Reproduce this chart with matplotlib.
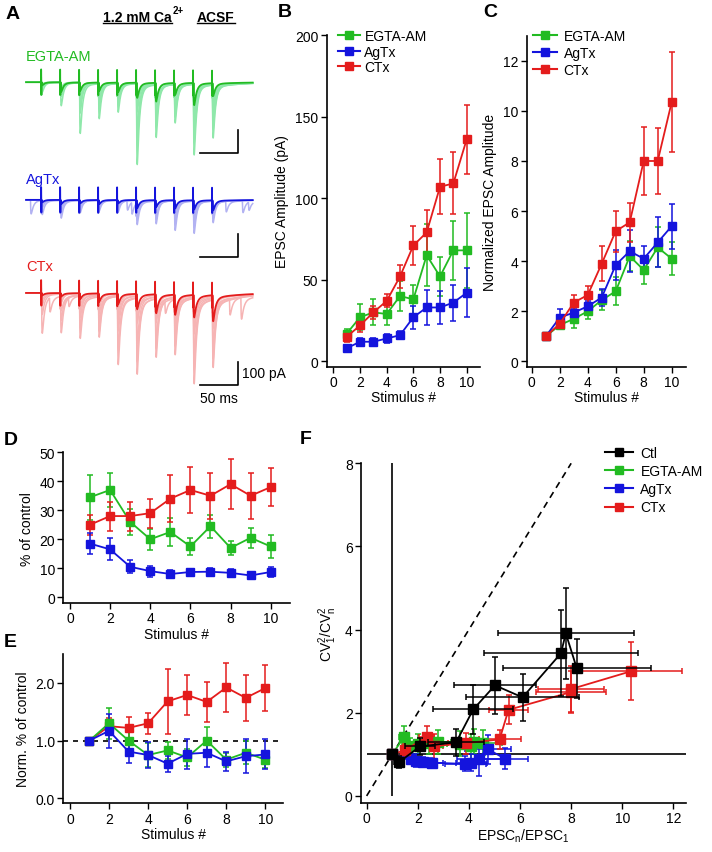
import numpy as np
import matplotlib
matplotlib.use('Agg')
import matplotlib.pyplot as plt
from matplotlib.lines import Line2D

plt.rcParams['font.family'] = ['Liberation Sans', 'DejaVu Sans']
plt.rcParams['font.size'] = 10
plt.rcParams['mathtext.default'] = 'regular'
plt.rcParams['axes.linewidth'] = 1.2

W, H = 712, 853

GREEN = '#22bb22'
BLUE = '#1414dd'
RED = '#e41c1c'
LGREEN = '#8fe8aa'
LBLUE = '#b2b2f2'
LRED = '#f6b4b4'

stim = np.arange(1, 11)
labels = ['EGTA-AM', 'AgTx', 'CTx']

# B: EPSC amplitude (pA)
egta_amp = [17, 27, 30, 29, 40, 38, 65, 52, 68, 68]
egta_amp_err = [3, 8, 8, 7, 9, 9, 19, 12, 18, 23]
agtx_amp = [8, 12, 12, 14, 16, 27, 33, 33, 36, 42]
agtx_amp_err = [1.5, 2, 2, 2.5, 2.5, 7, 11, 10, 11, 15]
ctx_amp = [15, 22, 30, 37, 52, 71, 79, 107, 109, 136]
ctx_amp_err = [3, 4, 4, 4, 7, 12, 14, 17, 19, 21]

# C: normalized amplitude
egta_norm = [1.0, 1.45, 1.7, 2.0, 2.45, 2.8, 4.2, 3.65, 4.55, 4.1]
egta_norm_err = [0, 0.15, 0.35, 0.3, 0.4, 0.55, 0.6, 0.55, 0.8, 0.65]
agtx_norm = [1.0, 1.75, 1.95, 2.2, 2.55, 3.85, 4.4, 4.1, 4.75, 5.4]
agtx_norm_err = [0, 0.35, 0.2, 0.2, 0.35, 0.6, 0.85, 0.5, 1.0, 0.9]
ctx_norm = [1.0, 1.5, 2.35, 2.65, 3.9, 5.2, 5.55, 8.0, 8.0, 10.35]
ctx_norm_err = [0, 0.15, 0.3, 0.35, 0.7, 0.82, 0.78, 1.37, 1.3, 2.0]

# D: % of control
egta_pct = [34.5, 37, 26, 20, 22.5, 17.5, 24.5, 17, 20.5, 17.5]
egta_pct_err = [7.8, 6, 4.6, 3.7, 4.8, 3, 3.9, 2.3, 3.4, 4]
agtx_pct = [18.5, 16.5, 10.5, 9, 8, 8.7, 8.8, 8.4, 7.5, 8.7]
agtx_pct_err = [3.5, 3.8, 2.2, 1.9, 1.5, 1.2, 1.2, 1.5, 1.2, 1.8]
ctx_pct = [25, 28, 28, 29, 34, 37, 35, 39, 35, 38]
ctx_pct_err = [3.5, 5, 5, 5, 8, 8, 8, 8.6, 8, 6.5]

# E: normalized % of control
egta_npct = [1.0, 1.3, 1.0, 0.75, 0.83, 0.71, 1.0, 0.67, 0.79, 0.67]
egta_npct_err = [0, 0.27, 0.2, 0.2, 0.15, 0.15, 0.24, 0.12, 0.2, 0.15]
agtx_npct = [1.0, 1.17, 0.81, 0.75, 0.6, 0.77, 0.79, 0.64, 0.73, 0.76]
agtx_npct_err = [0, 0.29, 0.19, 0.22, 0.14, 0.26, 0.24, 0.16, 0.29, 0.26]
ctx_npct = [1.0, 1.25, 1.22, 1.3, 1.68, 1.79, 1.67, 1.92, 1.74, 1.91]
ctx_npct_err = [0, 0.15, 0.19, 0.18, 0.56, 0.35, 0.35, 0.42, 0.4, 0.4]

# F: CV analysis (x = EPSCn/EPSC1, y = CV1^2/CVn^2)
ctl_x = [1.0, 1.28, 2.09, 3.5, 4.17, 5.02, 6.1, 7.6, 7.79, 8.22]
ctl_y = [1.0, 0.82, 1.19, 1.29, 2.08, 2.66, 2.37, 3.43, 3.91, 3.07]
ctl_xerr = [0, 0.2, 0.6, 1.1, 1.57, 1.6, 2.2, 3.0, 2.65, 2.9]
ctl_yerr = [0, 0.14, 0.2, 0.33, 0.58, 0.68, 0.56, 1.03, 1.1, 0.71]
egta_cv = [1.0, 1.41, 1.2, 1.25, 1.27, 1.3, 1.3, 1.25, 1.28, 1.2]
egta_cv_xerr = [0, 0.2, 0.3, 0.35, 0.4, 0.5, 0.55, 0.5, 0.75, 0.6]
egta_cv_err = [0, 0.27, 0.2, 0.25, 0.25, 0.28, 0.3, 0.3, 0.3, 0.3]
agtx_cv = [1.0, 0.88, 0.85, 0.82, 0.8, 0.77, 0.88, 0.8, 1.12, 0.9]
agtx_cv_xerr = [0, 0.3, 0.35, 0.4, 0.45, 0.8, 0.85, 0.6, 0.9, 0.9]
agtx_cv_err = [0, 0.12, 0.15, 0.12, 0.12, 0.18, 0.4, 0.2, 0.35, 0.25]
ctx_cv = [1.0, 1.1, 1.42, 1.2, 1.27, 1.36, 2.07, 2.5, 2.57, 3.0]
ctx_cv_err = [0, 0.15, 0.25, 0.3, 0.25, 0.22, 0.35, 0.5, 0.55, 0.7]

# A: example traces, peak EPSC (pA) per stimulus for single sweeps and the mean
egta_sweeps = [[43, 60, 217, 80, 60, 348, 120, 165, 150, 230],
               [20, 100, 90, 152, 122, 120, 230, 90, 304, 110],
               [12, 35, 60, 60, 90, 200, 150, 120, 200, 150],
               [25, 50, 130, 110, 70, 260, 180, 140, 250, 190],
               [6, 20, 40, 45, 40, 100, 80, 60, 120, 90]]
egta_mean = [13, 40, 35, 35, 40, 65, 80, 50, 95, 55]
agtx_sweeps = [[60, 75, 30, 45, 35, 93, 60, 126, 60, 93],
               [20, 30, 54, 20, 50, 40, 100, 50, 140, 40],
               [35, 50, 40, 35, 30, 75, 80, 100, 110, 70],
               [10, 15, 20, 25, 20, 60, 30, 80, 90, 60]]
agtx_mean = [10, 17, 14, 17, 14, 35, 30, 35, 39, 43]
agtx_async = [(13, 60), (140, 40), (146, 50), (270, 45), (292, 50), (300, 35)]
ctx_sweeps = [[170, 60, 178, 70, 290, 100, 255, 90, 365, 120],
              [50, 165, 60, 178, 100, 330, 100, 243, 150, 295],
              [30, 40, 100, 120, 150, 200, 180, 160, 250, 200],
              [90, 110, 140, 150, 220, 270, 210, 200, 300, 250],
              [15, 25, 50, 60, 80, 120, 100, 120, 150, 130]]
ctx_mean = [10, 14, 25, 35, 45, 65, 80, 85, 95, 110]
ctx_async = [(38, 60), (63, 40), (190, 50), (275, 70), (290, 90)]

fig = plt.figure(figsize=(W / 100, H / 100), dpi=100)


def px_axes(l, t, r, b):
    return fig.add_axes([l / W, 1 - b / H, (r - l) / W, (b - t) / H])


def style(ax, xlim, ylim, xticks, yticks):
    ax.set_xlim(xlim)
    ax.set_ylim(ylim)
    ax.spines[['top', 'right']].set_visible(False)
    ax.set_xticks(xticks)
    ax.set_yticks(yticks)
    ax.tick_params(direction='out', length=4, width=1, pad=2)


def eb(ax, x, y, yerr, color, xerr=None, ms=5.5, z=2):
    ax.errorbar(x, y, yerr=yerr, xerr=xerr, fmt='-s', color=color, ms=ms, lw=1.3,
                elinewidth=1.1, capsize=2.5, capthick=1.1, zorder=z)


def legend(ax, labs, cols, x, y, hl, tp, ls):
    handles = [Line2D([], [], color=c, marker='s', ms=6, lw=1.5) for c in cols]
    ax.legend(handles, labs, loc='upper left', bbox_to_anchor=(x / W, 1 - y / H),
              bbox_transform=fig.transFigure, frameon=False, handlelength=hl,
              handletextpad=tp, labelspacing=ls, borderpad=0, borderaxespad=0)


def letter(x, y, s):
    fig.text(x / W, 1 - y / H, s, fontsize=14, fontweight='bold', va='top', ha='left')


# ---- A: traces
axa = px_axes(20, 40, 260, 410)
axa.set_xlim(0, 316)
axa.set_ylim(-1610, 0)
axa.axis('off')
t = np.arange(8, 306.5, 0.1)
stim_t = 27.6 + 25 * np.arange(10)


def sweep(amps, slow, events=(), artifact=True):
    v = np.zeros_like(t)
    for t0, a in list(zip(stim_t, amps)) + list(events):
        s = t - t0 - 0.8
        on = s > 0
        fast = np.where(on, np.exp(-s / 3.0) - np.exp(-s / 0.4), 0) / 0.635
        tail = np.where(on, np.exp(-s / 35.0) * (1 - np.exp(-s / 3.0)), 0)
        v -= a * (fast + slow * tail)
    if artifact:
        for t0 in stim_t:
            v += np.where((t >= t0) & (t < t0 + 0.3), 55, 0)
            v -= np.where((t >= t0 + 0.3) & (t < t0 + 0.6), 55, 0)
    return v


traces = [(egta_sweeps, egta_mean, [], -188, GREEN, LGREEN, 0.06, 'EGTA-AM', -74),
          (agtx_sweeps, agtx_mean, agtx_async, -700, BLUE, LBLUE, 0.06, 'AgTx', -609),
          (ctx_sweeps, ctx_mean, ctx_async, -1105, RED, LRED, 0.12, 'CTx', -987)]
for sweeps, mean, asyn, base, dark, light, slow, name, ylab in traces:
    for i, sw in enumerate(sweeps):
        ev = asyn if i == 0 else []
        axa.plot(t, base + sweep(sw, slow, ev), color=light, lw=1.1)
    axa.plot(t, base + sweep(mean, slow), color=dark, lw=1.3)
    axa.text(8, ylab, name, color=dark, fontsize=10.5, va='center', ha='left')

for ybar in [-496, -948, -1505]:
    axa.plot([237, 287, 287], [ybar, ybar, ybar + 100], color='k', lw=1.2)
axa.text(292, -1455, '100 pA', fontsize=10, va='center', ha='left')
axa.text(262, -1530, '50 ms', fontsize=10, va='top', ha='center')

t1 = fig.text(103 / W, 1 - 22 / H, '1.2 mM Ca', fontsize=10, fontweight='bold', va='baseline')
t3 = fig.text(197 / W, 1 - 22 / H, 'ACSF', fontsize=10, fontweight='bold', va='baseline')
fig.canvas.draw()
r = fig.canvas.get_renderer()
b1 = t1.get_window_extent(r)
b3 = t3.get_window_extent(r)
fig.text(b1.x1 / W + 1 / W, 1 - 14 / H, '2+', fontsize=7, fontweight='bold', va='baseline')
for bb in (b1, b3):
    fig.add_artist(Line2D([bb.x0 / W, bb.x1 / W], [1 - 24 / H, 1 - 24 / H], color='k', lw=1.0))

# ---- B
axb = px_axes(326.7, 36, 480, 367.7)
style(axb, (-0.5, 11.0), (-3.3, 200), range(0, 11, 2), range(0, 201, 50))
eb(axb, stim, egta_amp, egta_amp_err, GREEN)
eb(axb, stim, agtx_amp, agtx_amp_err, BLUE)
eb(axb, stim, ctx_amp, ctx_amp_err, RED)
axb.set_xlabel('Stimulus #', labelpad=1)
axb.set_ylabel('EPSC Amplitude (pA)', labelpad=4)
legend(axb, labels, [GREEN, BLUE, RED], 338, 30, 1.6, 0.3, 0.12)

# ---- C
axc = px_axes(526.7, 36.7, 685.7, 367.7)
style(axc, (-0.36, 11.0), (-0.21, 13), range(0, 11, 2), range(0, 13, 2))
eb(axc, stim, egta_norm, egta_norm_err, GREEN)
eb(axc, stim, agtx_norm, agtx_norm_err, BLUE)
eb(axc, stim, ctx_norm, ctx_norm_err, RED)
axc.set_xlabel('Stimulus #', labelpad=1)
axc.set_ylabel('Normalized EPSC Amplitude', labelpad=4)
legend(axc, labels, [GREEN, BLUE, RED], 533, 30, 1.7, 0.5, 0.2)

# ---- D
axd = px_axes(63.3, 453.3, 290, 604)
style(axd, (-0.33, 10.96), (-2.0, 50), range(0, 11, 2), range(0, 51, 10))
eb(axd, stim, egta_pct, egta_pct_err, GREEN)
eb(axd, stim, ctx_pct, ctx_pct_err, RED)
eb(axd, stim, agtx_pct, agtx_pct_err, BLUE)
axd.set_xlabel('Stimulus #', labelpad=1)
axd.set_ylabel('% of control', labelpad=4)

# ---- E
axe = px_axes(63.3, 655, 283.3, 804.3)
style(axe, (-0.34, 10.92), (-0.086, 2.5), range(0, 11, 2), [0, 1, 2])
axe.set_yticklabels(['0.0', '1.0', '2.0'])
axe.axhline(1.0, color='k', ls=(0, (3, 3)), lw=1.2, zorder=1)
eb(axe, stim, ctx_npct, ctx_npct_err, RED)
eb(axe, stim, egta_npct, egta_npct_err, GREEN)
eb(axe, stim, agtx_npct, agtx_npct_err, BLUE)
axe.set_xlabel('Stimulus #', labelpad=1)
axe.set_ylabel('Norm. % of control', labelpad=4)

# ---- F
axf = px_axes(361, 464.3, 685.7, 804)
style(axf, (-0.22, 12.48), (-0.17, 8), range(0, 13, 2), range(0, 9, 2))
axf.plot([0, 8], [0, 8], color='k', ls=(0, (4, 3)), lw=1.2, zorder=1)
axf.vlines(1, 0, 8, color='k', lw=1.2, zorder=1)
axf.hlines(1, 0, 12.48, color='k', lw=1.2, zorder=1)
eb(axf, egta_norm, egta_cv, egta_cv_err, GREEN, xerr=egta_cv_xerr, ms=7)
eb(axf, agtx_norm, agtx_cv, agtx_cv_err, BLUE, xerr=agtx_cv_xerr, ms=7)
eb(axf, ctx_norm, ctx_cv, ctx_cv_err, RED, xerr=ctx_norm_err, ms=7)
eb(axf, ctl_x, ctl_y, ctl_yerr, 'k', xerr=ctl_xerr, ms=7.5, z=3)
axf.set_xlabel('EPSC$_n$/EPSC$_1$', labelpad=1)
axf.set_ylabel('CV$^2_1$/CV$^2_n$', labelpad=4)
legend(axf, ['Ctl'] + labels, ['k', GREEN, BLUE, RED], 605, 447, 2.0, 0.55, 0.3)

letter(6, 6, 'A')
letter(278, 4, 'B')
letter(483, 4, 'C')
letter(4, 432, 'D')
letter(4, 634, 'E')
letter(300, 431, 'F')

fig.savefig('out.png', dpi=100)
